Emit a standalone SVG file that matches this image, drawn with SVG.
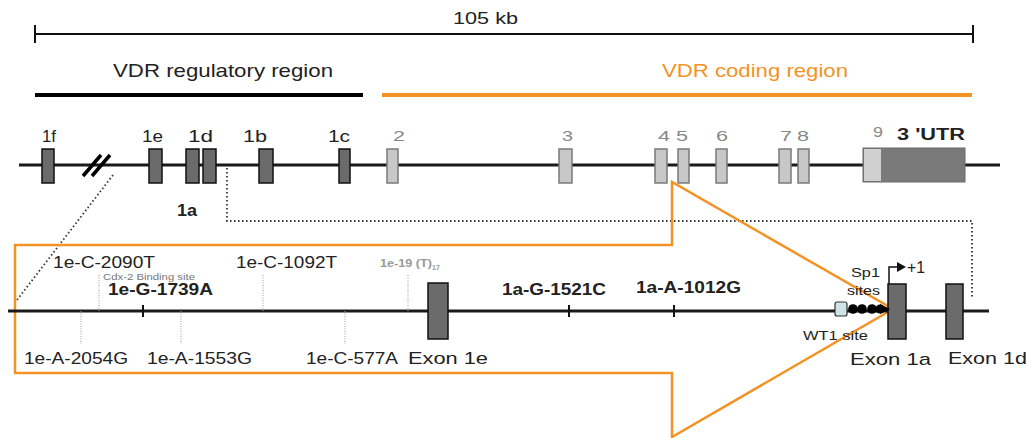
<svg xmlns="http://www.w3.org/2000/svg" width="1032" height="438" viewBox="0 0 1032 438">
<style>
text{font-family:"Liberation Sans",Arial,sans-serif;fill:#222}
.lbl{font-size:16px}
.gl{font-size:15px;fill:#888}
.b{font-weight:bold}
.ex{fill:#6b6b6b;stroke:#111;stroke-width:1.5}
.exl{fill:#c8c8c8;stroke:#7a7a7a;stroke-width:1.5}
.line{stroke:#1a1a1a;stroke-width:3}
.dot{stroke:#333;stroke-width:1.8;stroke-dasharray:1.5 2.5;fill:none}
.vd{stroke:#999;stroke-width:1;stroke-dasharray:1 1.5}
.tick{stroke:#111;stroke-width:2}
</style>
<rect width="1032" height="438" fill="#fff"/>
<g id="scale">
<line x1="35" y1="34" x2="973" y2="34" stroke="#111" stroke-width="2"/>
<line x1="35" y1="25" x2="35" y2="43" stroke="#111" stroke-width="2"/>
<line x1="973" y1="25" x2="973" y2="43" stroke="#111" stroke-width="2"/>
<text x="453" y="24" font-size="17" textLength="65" lengthAdjust="spacingAndGlyphs">105 kb</text>
</g>
<g id="regions">
<line x1="35" y1="95" x2="363" y2="95" stroke="#000" stroke-width="4"/>
<line x1="382" y1="95" x2="972" y2="95" stroke="#F39325" stroke-width="4"/>
<text x="113" y="77" font-size="18.5" textLength="220" lengthAdjust="spacingAndGlyphs">VDR regulatory region</text>
<text x="662" y="77" font-size="18.5" textLength="186" lengthAdjust="spacingAndGlyphs" style="fill:#F39325">VDR coding region</text>
</g>
<g id="connectors">
<path class="dot" d="M113,175 L17,300"/>
<path class="dot" d="M227,168 L227,221 L972,221 L972,297"/>
</g>
<g id="gene">
<line class="line" x1="19" y1="165" x2="1000" y2="165"/>
<line x1="83" y1="176" x2="101" y2="155" stroke="#000" stroke-width="3.5"/>
<line x1="92" y1="176" x2="110" y2="155" stroke="#000" stroke-width="3.5"/>
<rect class="ex" x="42" y="149" width="12" height="34"/>
<rect class="ex" x="149" y="149" width="13" height="34"/>
<rect class="ex" x="186" y="149" width="13" height="34"/>
<rect class="ex" x="203" y="149" width="13" height="34"/>
<rect class="ex" x="259" y="149" width="14" height="34"/>
<rect class="ex" x="339" y="149" width="11" height="34"/>
<rect class="exl" x="387" y="149" width="11" height="34"/>
<rect class="exl" x="559" y="149" width="13" height="34"/>
<rect class="exl" x="655" y="149" width="12" height="34"/>
<rect class="exl" x="678" y="149" width="11" height="34"/>
<rect class="exl" x="716" y="149" width="11" height="34"/>
<rect class="exl" x="779" y="149" width="12" height="34"/>
<rect class="exl" x="798" y="149" width="11" height="34"/>
<rect x="863" y="148" width="102" height="34" fill="#7a7a7a" stroke="#6a6a6a" stroke-width="1"/>
<rect x="864" y="149" width="17" height="32" fill="#d0d0d0"/>
<text class="lbl" x="42" y="142" textLength="14" lengthAdjust="spacingAndGlyphs">1f</text>
<text class="lbl" x="142" y="142" textLength="21" lengthAdjust="spacingAndGlyphs">1e</text>
<text class="lbl" x="188" y="142" textLength="25" lengthAdjust="spacingAndGlyphs">1d</text>
<text class="lbl" x="243" y="142" textLength="24" lengthAdjust="spacingAndGlyphs">1b</text>
<text class="lbl" x="328" y="142" textLength="22" lengthAdjust="spacingAndGlyphs">1c</text>
<text class="gl" x="393" y="141" textLength="12" lengthAdjust="spacingAndGlyphs">2</text>
<text class="gl" x="562" y="141" textLength="11" lengthAdjust="spacingAndGlyphs">3</text>
<text class="gl" x="658" y="141" textLength="12" lengthAdjust="spacingAndGlyphs">4</text>
<text class="gl" x="676" y="141" textLength="12" lengthAdjust="spacingAndGlyphs">5</text>
<text class="gl" x="716" y="141" textLength="12" lengthAdjust="spacingAndGlyphs">6</text>
<text class="gl" x="780" y="141" textLength="12" lengthAdjust="spacingAndGlyphs">7</text>
<text class="gl" x="797" y="141" textLength="12" lengthAdjust="spacingAndGlyphs">8</text>
<text class="gl" x="873" y="137" textLength="10" lengthAdjust="spacingAndGlyphs">9</text>
<text class="lbl b" x="897" y="140" textLength="68" lengthAdjust="spacingAndGlyphs">3 'UTR</text>
<text class="lbl b" x="177" y="216" textLength="20" lengthAdjust="spacingAndGlyphs">1a</text>
</g>
<g id="arrow">
<polygon points="15,245 672,245 672,182 893,309 672,437 672,373 15,373" fill="none" stroke="#F39325" stroke-width="2.5" stroke-linejoin="miter"/>
</g>
<g id="detail">
<line class="line" x1="8" y1="311" x2="989" y2="311"/>
<line class="vd" x1="99" y1="275" x2="99" y2="311"/>
<line class="vd" x1="263" y1="275" x2="263" y2="311"/>
<line class="vd" x1="408" y1="275" x2="408" y2="311"/>
<line class="vd" x1="81" y1="311" x2="81" y2="344"/>
<line class="vd" x1="181" y1="311" x2="181" y2="344"/>
<line class="vd" x1="345" y1="311" x2="345" y2="344"/>
<line class="tick" x1="143" y1="305" x2="143" y2="317"/>
<line class="tick" x1="569" y1="305" x2="569" y2="317"/>
<line class="tick" x1="674" y1="305" x2="674" y2="317"/>
<rect class="ex" x="428" y="283" width="20" height="56"/>
<rect class="ex" x="888" y="284" width="18" height="55"/>
<rect class="ex" x="946" y="284" width="17" height="55"/>
<rect x="835" y="302" width="12" height="14" rx="2" fill="#cfe4e6" stroke="#333" stroke-width="1.2"/>
<circle cx="853" cy="309" r="4.8" fill="#000"/>
<circle cx="862" cy="309" r="4.8" fill="#000"/>
<circle cx="872" cy="309" r="4.8" fill="#000"/>
<circle cx="880" cy="309" r="4.5" fill="#000"/>
<polygon points="880,304 890,309 880,314" fill="#000"/>
<path d="M889,284 L889,267 L898,267" fill="none" stroke="#111" stroke-width="1.5"/>
<polygon points="897,262 906,267 897,272" fill="#111"/>
<text class="lbl" x="53" y="268" textLength="102" lengthAdjust="spacingAndGlyphs">1e-C-2090T</text>
<text x="103" y="280" font-size="9" textLength="92" lengthAdjust="spacingAndGlyphs" style="fill:#777">Cdx-2 Binding site</text>
<text class="lbl b" x="108" y="295" textLength="105" lengthAdjust="spacingAndGlyphs">1e-G-1739A</text>
<text class="lbl" x="236" y="268" textLength="101" lengthAdjust="spacingAndGlyphs">1e-C-1092T</text>
<text x="380" y="267" font-size="11" font-weight="bold" style="fill:#999"><tspan textLength="52" lengthAdjust="spacingAndGlyphs">1e-19 (T)</tspan><tspan font-size="7" dy="3">17</tspan></text>
<text class="lbl" x="24" y="364" textLength="104" lengthAdjust="spacingAndGlyphs">1e-A-2054G</text>
<text class="lbl" x="147" y="364" textLength="105" lengthAdjust="spacingAndGlyphs">1e-A-1553G</text>
<text class="lbl" x="306" y="364" textLength="92" lengthAdjust="spacingAndGlyphs">1e-C-577A</text>
<text x="408" y="364" font-size="17" textLength="80" lengthAdjust="spacingAndGlyphs">Exon 1e</text>
<text class="lbl b" x="502" y="295" textLength="104" lengthAdjust="spacingAndGlyphs">1a-G-1521C</text>
<text class="lbl b" x="636" y="293" textLength="105" lengthAdjust="spacingAndGlyphs">1a-A-1012G</text>
<text x="851" y="277" font-size="13" textLength="29" lengthAdjust="spacingAndGlyphs">Sp1</text>
<text x="847" y="295" font-size="13" textLength="33" lengthAdjust="spacingAndGlyphs">sites</text>
<text x="803" y="340" font-size="13" textLength="65" lengthAdjust="spacingAndGlyphs">WT1 site</text>
<text x="907" y="273" font-size="17" textLength="18" lengthAdjust="spacingAndGlyphs">+1</text>
<text x="850" y="365" font-size="17" textLength="81" lengthAdjust="spacingAndGlyphs">Exon 1a</text>
<text x="948" y="364" font-size="17" textLength="79" lengthAdjust="spacingAndGlyphs">Exon 1d</text>
</g>
</svg>
